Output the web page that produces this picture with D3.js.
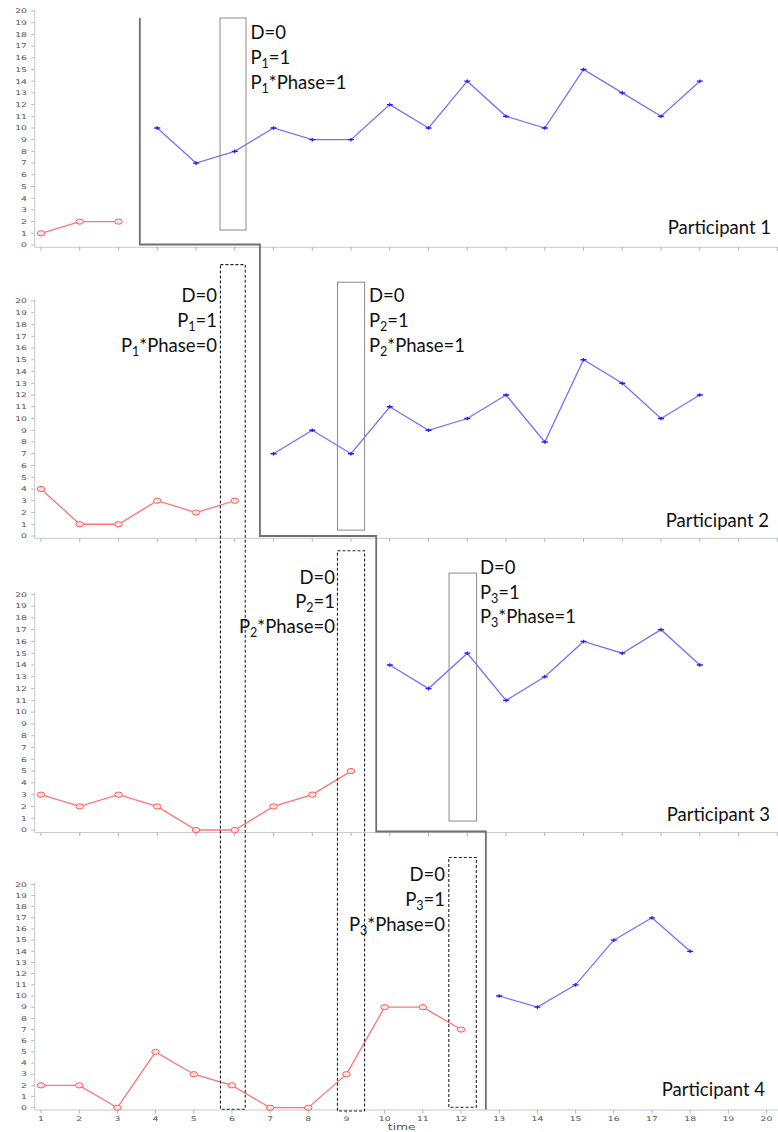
<!DOCTYPE html>
<html>
<head>
<meta charset="utf-8">
<script src="https://cdn.jsdelivr.net/npm/d3@7"></script>
<style>
  html, body { margin: 0; padding: 0; background: #fff; }
  svg { display: block; }
</style>
</head>
<body>
<svg id="chart" width="778" height="1132"></svg>
<script>
// ---- data ----------------------------------------------------------------
const timeTicks = d3.range(1, 21);          // session numbers on the x axis
const valueTicks = d3.range(0, 21);         // y axis 0..20

// baseline (phase A) and intervention (phase B) observations per participant
const p1BaseTimes = [1, 2, 3];
const p1BaseValues = [1, 2, 2];
const p1TreatTimes = [4, 5, 6, 7, 8, 9, 10, 11, 12, 13, 14, 15, 16, 17, 18];
const p1TreatValues = [10, 7, 8, 10, 9, 9, 12, 10, 14, 11, 10, 15, 13, 11, 14];

const p2BaseTimes = [1, 2, 3, 4, 5, 6];
const p2BaseValues = [4, 1, 1, 3, 2, 3];
const p2TreatTimes = [7, 8, 9, 10, 11, 12, 13, 14, 15, 16, 17, 18];
const p2TreatValues = [7, 9, 7, 11, 9, 10, 12, 8, 15, 13, 10, 12];

const p3BaseTimes = [1, 2, 3, 4, 5, 6, 7, 8, 9];
const p3BaseValues = [3, 2, 3, 2, 0, 0, 2, 3, 5];
const p3TreatTimes = [10, 11, 12, 13, 14, 15, 16, 17, 18];
const p3TreatValues = [14, 12, 15, 11, 13, 16, 15, 17, 14];

const p4BaseTimes = [1, 2, 3, 4, 5, 6, 7, 8, 9, 10, 11, 12];
const p4BaseValues = [2, 2, 0, 5, 3, 2, 0, 0, 3, 9, 9, 7];
const p4TreatTimes = [13, 14, 15, 16, 17, 18];
const p4TreatValues = [10, 9, 11, 15, 17, 14];

const participantNames = ["Participant 1", "Participant 2", "Participant 3", "Participant 4"];

// phase change points (between sessions) for the multiple-baseline staircase
const phaseChanges = [3.55, 6.65, 9.65, 12.65];

// ---- layout --------------------------------------------------------------
const panelLayout = [
  { top: 11,    bottom: 245,    axisY: 247.3,  left: 41, right: 777.3, label: 234 },
  { top: 301,   bottom: 536,    axisY: 538.3,  left: 41, right: 777.3, label: 527 },
  { top: 594.3, bottom: 830,    axisY: 832.6,  left: 41, right: 777.3, label: 821 },
  { top: 884.3, bottom: 1107.7, axisY: 1110,   left: 41, right: 766.5, label: 1096 }
];
const labelRight = [771, 769, 770, 765];
const axisX = 34.7;

const svg = d3.select("#chart");

const baseTimes = [p1BaseTimes, p2BaseTimes, p3BaseTimes, p4BaseTimes];
const baseValues = [p1BaseValues, p2BaseValues, p3BaseValues, p4BaseValues];
const treatTimes = [p1TreatTimes, p2TreatTimes, p3TreatTimes, p4TreatTimes];
const treatValues = [p1TreatValues, p2TreatValues, p3TreatValues, p4TreatValues];

const panels = panelLayout.map((p, i) => ({
  ...p,
  x: d3.scaleLinear().domain([1, 20]).range([p.left, p.right]),
  y: d3.scaleLinear().domain([0, 20]).range([p.bottom, p.top]),
  base: baseTimes[i].map((t, k) => ({ t, v: baseValues[i][k] })),
  treat: treatTimes[i].map((t, k) => ({ t, v: treatValues[i][k] }))
}));

// ---- axes ------------------------------------------------------------------
panels.forEach((p, i) => {
  const g = svg.append("g");
  // y axis
  g.append("line")
    .attr("x1", axisX).attr("x2", axisX)
    .attr("y1", p.top - 2).attr("y2", p.axisY)
    .attr("stroke", "#c4c8cc").attr("stroke-width", 1);
  valueTicks.forEach(v => {
    g.append("line")
      .attr("x1", axisX - 3.5).attr("x2", axisX)
      .attr("y1", p.y(v)).attr("y2", p.y(v))
      .attr("stroke", "#b8bcc0").attr("stroke-width", 1);
    g.append("text")
      .attr("transform", `translate(27,${p.y(v) + 2.3}) scale(1.45,1)`)
      .attr("text-anchor", "end")
      .attr("font-family", "DejaVu Sans")
      .attr("font-size", 6.4)
      .attr("fill", "#555")
      .text(v);
  });
  // x axis
  g.append("line")
    .attr("x1", axisX).attr("x2", 778)
    .attr("y1", p.axisY).attr("y2", p.axisY)
    .attr("stroke", "#c4c8cc").attr("stroke-width", 1);
  timeTicks.forEach(t => {
    g.append("line")
      .attr("x1", p.x(t)).attr("x2", p.x(t))
      .attr("y1", p.axisY).attr("y2", p.axisY + 3.5)
      .attr("stroke", "#b0b4b8").attr("stroke-width", 1);
    if (i === panels.length - 1) {
      g.append("text")
        .attr("transform", `translate(${p.x(t)},${p.axisY + 11}) scale(1.45,1)`)
        .attr("text-anchor", "middle")
        .attr("font-family", "DejaVu Sans")
        .attr("font-size", 6.4)
        .attr("fill", "#555")
        .text(t);
    }
  });
  if (i === panels.length - 1) {
    svg.append("text")
      .attr("transform", `translate(${p.x(10.5) - 2},1130) scale(1.45,1)`)
      .attr("text-anchor", "middle")
      .attr("font-family", "DejaVu Sans")
      .attr("font-size", 8.5)
      .attr("fill", "#555")
      .text("time");
  }
});

// ---- phase-change staircase ----------------------------------------------
{
  const [a, b, c, d] = panels;
  const path = d3.path();
  path.moveTo(a.x(phaseChanges[0]), a.y(19.4));
  path.lineTo(a.x(phaseChanges[0]), a.bottom - 0.5);
  path.lineTo(b.x(phaseChanges[1]), a.bottom - 0.5);
  path.lineTo(b.x(phaseChanges[1]), b.bottom);
  path.lineTo(c.x(phaseChanges[2]), b.bottom);
  path.lineTo(c.x(phaseChanges[2]), c.bottom + 1.5);
  path.lineTo(d.x(phaseChanges[3]), c.bottom + 1.5);
  path.lineTo(d.x(phaseChanges[3]), d.axisY - 0.5);
  svg.append("path")
    .attr("d", path.toString())
    .attr("fill", "none")
    .attr("stroke", "#707070")
    .attr("stroke-width", 1.8);
}

// ---- series ----------------------------------------------------------------
panels.forEach(p => {
  const line = d3.line().x(d => p.x(d.t)).y(d => p.y(d.v));
  svg.append("path").datum(p.base)
    .attr("d", line).attr("fill", "none")
    .attr("stroke", "#ff7474").attr("stroke-width", 1.3);
  svg.append("path").datum(p.treat)
    .attr("d", line).attr("fill", "none")
    .attr("stroke", "#7272ff").attr("stroke-width", 1.3);

  svg.append("g").selectAll("ellipse").data(p.base).join("ellipse")
    .attr("cx", d => p.x(d.t)).attr("cy", d => p.y(d.v))
    .attr("rx", 3.8).attr("ry", 2.6)
    .attr("fill", "#ffe4e4").attr("stroke", "#ff5a5a").attr("stroke-width", 1);
  svg.append("g").selectAll("path").data(p.treat).join("path")
    .attr("transform", d => `translate(${p.x(d.t)},${p.y(d.v)})`)
    .attr("d", "M-3,0H3M0,-1.8V1.8")
    .attr("stroke", "#1d1dff").attr("stroke-width", 1.3);
});

// ---- annotation boxes ------------------------------------------------------
// each box: time span on a panel's x scale, top value on topPanel, bottom value on bottomPanel
const boxes = [
  { xPanel: 0, t0: 5.62, t1: 6.29, topPanel: 0, vTop: 19.4, bottomPanel: 0, vBottom: 1.28, dashed: false },
  { xPanel: 1, t0: 8.65, t1: 9.35, topPanel: 1, vTop: 21.6, bottomPanel: 1, vBottom: 0.5,  dashed: false },
  { xPanel: 2, t0: 11.53, t1: 12.24, topPanel: 2, vTop: 21.8, bottomPanel: 2, vBottom: 0.76, dashed: false },
  { xPanel: 1, t0: 5.63, t1: 6.27, topPanel: 1, vTop: 23.1, bottomPanel: 3, vBottom: -0.14, dashed: true },
  { xPanel: 2, t0: 8.65, t1: 9.35, topPanel: 2, vTop: 23.7, bottomPanel: 3, vBottom: -0.3,  dashed: true },
  { xPanel: 3, t0: 11.68, t1: 12.40, topPanel: 3, vTop: 22.4, bottomPanel: 3, vBottom: 0.04, dashed: true }
];
boxes.forEach(bx => {
  const px = panels[bx.xPanel];
  const x0 = px.x(bx.t0), x1 = px.x(bx.t1);
  const y0 = panels[bx.topPanel].y(bx.vTop), y1 = panels[bx.bottomPanel].y(bx.vBottom);
  svg.append("rect")
    .attr("x", x0).attr("y", y0)
    .attr("width", x1 - x0).attr("height", y1 - y0)
    .attr("fill", "none")
    .attr("stroke", bx.dashed ? "#222" : "#8a8a8a")
    .attr("stroke-width", bx.dashed ? 1.1 : 1)
    .attr("stroke-dasharray", bx.dashed ? "3,2" : null);
});

// ---- annotation text -------------------------------------------------------
const annotations = [
  { x: 250.5, anchor: "start", baselines: [39, 64, 89],    lines: ["D=0", "P_1=1", "P_1*Phase=1"] },
  { x: 217,   anchor: "end",   baselines: [302, 327, 352], lines: ["D=0", "P_1=1", "P_1*Phase=0"] },
  { x: 369,   anchor: "start", baselines: [302, 327, 352], lines: ["D=0", "P_2=1", "P_2*Phase=1"] },
  { x: 335,   anchor: "end",   baselines: [584, 608, 633], lines: ["D=0", "P_2=1", "P_2*Phase=0"] },
  { x: 480,   anchor: "start", baselines: [574, 599, 623], lines: ["D=0", "P_3=1", "P_3*Phase=1"] },
  { x: 445,   anchor: "end",   baselines: [881, 906, 931], lines: ["D=0", "P_3=1", "P_3*Phase=0"] }
];
const textFont = "Lato, 'Open Sans', sans-serif";
annotations.forEach(a => {
  a.lines.forEach((ln, k) => {
    const t = svg.append("text")
      .attr("x", a.x).attr("y", a.baselines[k])
      .attr("text-anchor", a.anchor)
      .attr("font-family", textFont)
      .attr("font-size", 18.5)
      .attr("fill", "#111");
    const m = ln.match(/^P_(\d)(.*)$/);
    if (m) {
      t.append("tspan").text("P");
      t.append("tspan").attr("dy", 4).attr("font-size", 12.5).text(m[1]);
      t.append("tspan").attr("dy", -4).text(m[2]);
    } else {
      t.text(ln);
    }
  });
});

panels.forEach((p, i) => {
  svg.append("text")
    .attr("x", labelRight[i]).attr("y", p.label)
    .attr("text-anchor", "end")
    .attr("font-family", textFont)
    .attr("font-size", 18.5)
    .attr("fill", "#111")
    .text(participantNames[i]);
});
</script>
</body>
</html>
